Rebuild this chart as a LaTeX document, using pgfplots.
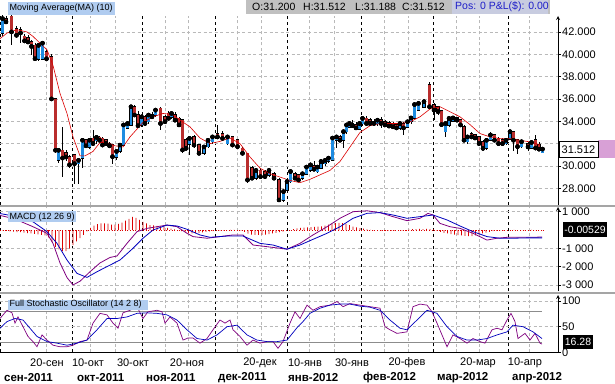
\documentclass[border=0pt]{standalone}
\usepackage{pgfplots}
\pgfplotsset{compat=1.18}
\usepackage{pgfplotstable}
\usepackage{fontspec}
\setmainfont{Liberation Sans}
\definecolor{cblue}{RGB}{30,140,225}
\definecolor{cred}{RGB}{185,45,45}
\definecolor{maRed}{RGB}{220,0,0}
\definecolor{gridgray}{RGB}{185,185,185}
\definecolor{sepgray}{RGB}{165,165,165}
\definecolor{lblblue}{RGB}{176,204,240}
\definecolor{hdrgray}{RGB}{192,192,192}
\definecolor{posbg}{RGB}{200,204,224}
\definecolor{posblue}{RGB}{30,30,200}
\definecolor{pinkbox}{RGB}{216,160,214}
\definecolor{lineblue}{RGB}{0,0,190}
\definecolor{linepurple}{RGB}{128,0,128}
\definecolor{levelgray}{RGB}{140,140,140}

\pgfplotstableread{
x o h l c
6.0 43.2 43.4 42.7 42.9
11.5 43.4 43.5 40.8 42.0
16.5 42.3 42.5 41.5 41.7
20.5 42.2 42.4 41.0 41.9
24.5 41.6 41.8 41.0 41.2
28.0 41.5 41.7 40.9 41.1
31.5 41.1 41.3 39.9 40.7
35.0 40.8 41.0 39.5 39.6
46.5 40.2 40.4 39.5 39.6
51.5 39.8 40.0 35.9 36.0
55.5 36.0 36.1 31.2 31.4
62.5 31.4 33.5 29.0 30.7
66.0 31.2 31.4 30.4 30.8
69.5 30.8 31.0 29.8 30.1
74.5 31.0 31.1 28.4 30.2
86.0 32.3 32.4 31.6 31.8
93.0 32.47 33.2 31.9 32.0
99.5 32.56 32.7 32.1 32.3
102.5 32.47 32.6 31.7 31.87
106.0 32.3 32.4 31.9 32.0
109.5 32.0 32.1 31.6 31.8
112.5 31.87 32.0 30.2 30.83
134.5 35.3 35.5 34.4 34.56
138.0 34.6 34.9 33.4 33.6
145.0 34.4 34.6 33.6 33.8
152.0 34.6 34.8 34.2 34.4
160.5 35.16 35.3 33.2 33.8
165.0 34.4 34.6 33.8 33.96
168.5 34.7 34.9 34.1 34.26
175.0 34.56 34.8 34.0 34.1
179.0 34.26 34.4 33.5 33.67
182.5 34.1 34.2 31.2 31.43
186.0 32.3 32.5 31.4 31.57
194.0 32.6 32.8 31.6 31.87
199.0 31.87 32.0 31.0 31.13
217.5 32.9 33.7 32.5 32.6
222.5 32.9 33.1 32.3 32.47
232.5 32.6 32.7 31.8 31.87
237.5 32.3 32.4 31.6 31.73
242.5 31.57 31.7 31.0 31.13
247.5 31.13 31.2 28.5 28.74
252.0 29.8 30.0 28.7 28.9
260.5 29.6 29.8 28.9 29.04
265.0 29.5 29.6 28.9 29.04
274.0 29.3 29.5 28.7 28.9
279.0 28.74 28.9 26.9 26.95
295.0 29.3 29.5 28.8 28.9
298.5 29.2 29.3 28.6 28.74
314.0 30.0 30.4 29.6 29.7
340.0 32.6 32.8 32.1 32.3
352.5 33.8 34.1 33.4 33.6
356.0 33.7 33.9 33.2 33.4
366.5 34.26 34.5 33.6 33.8
370.0 34.1 34.3 33.6 33.8
374.0 33.96 34.2 33.7 33.8
381.0 34.1 34.4 33.4 33.8
385.0 33.96 34.1 33.5 33.67
389.0 33.87 34.0 33.4 33.57
393.0 33.8 33.9 33.3 33.5
396.5 33.7 33.8 33.2 33.4
403.5 33.8 33.9 32.8 33.4
429.5 37.25 37.5 35.2 35.3
434.0 35.46 35.6 34.1 35.0
438.0 35.3 35.4 34.6 34.86
441.5 34.9 35.0 33.6 33.7
457.0 34.3 34.4 33.9 34.1
460.5 34.1 34.2 33.5 33.67
464.0 33.5 33.7 32.2 32.3
471.5 32.9 33.0 32.5 32.6
475.0 32.8 32.9 32.3 32.5
479.0 32.6 32.7 31.9 32.0
483.0 32.17 32.3 31.4 31.57
494.5 32.77 32.9 32.2 32.3
498.5 32.47 32.6 31.9 32.0
502.5 32.3 32.5 31.9 32.0
513.5 33.07 33.1 31.3 32.3
517.5 32.3 32.4 31.1 31.73
528.0 32.0 32.1 31.3 31.7
535.5 32.3 32.8 31.5 31.6
539.0 31.9 32.1 31.3 31.5
}\redcandles

\pgfplotstableread{
x o h l c
2.5 41.9 43.5 41.6 43.2
38.5 39.6 41.0 39.4 40.8
42.5 39.6 41.1 39.5 41.0
58.5 30.5 31.5 30.3 31.4
78.5 30.2 30.6 28.4 30.5
82.5 30.7 32.5 29.8 32.3
89.5 31.7 32.5 31.5 32.3
96.5 32.26 32.7 32.0 32.56
116.5 30.8 31.4 30.5 31.3
120.0 31.3 31.9 31.2 31.87
123.5 31.87 33.7 31.8 33.67
127.5 33.4 33.9 33.3 33.8
131.0 33.67 35.4 33.6 35.3
141.5 33.67 34.5 33.5 34.4
148.5 33.96 34.7 33.8 34.56
155.5 34.56 35.2 34.4 35.0
171.5 34.4 34.9 34.2 34.7
189.5 31.97 32.6 31.0 32.47
204.0 31.13 31.8 31.0 31.7
208.0 31.73 32.4 31.6 32.3
212.5 32.17 32.7 32.0 32.6
227.5 32.0 32.7 31.9 32.6
256.0 28.9 29.8 28.7 29.6
269.0 29.2 29.7 29.0 29.6
283.5 26.95 27.9 26.8 27.7
287.0 27.85 28.7 27.7 28.6
290.5 28.6 29.6 28.5 29.5
302.5 28.9 29.4 28.7 29.3
306.5 29.3 30.0 29.2 29.9
310.5 29.6 30.2 29.5 30.1
317.5 29.5 30.0 29.4 29.9
321.0 29.8 30.5 29.7 30.4
325.0 30.2 30.6 30.0 30.5
328.5 30.4 30.8 30.3 30.7
332.5 30.5 32.6 30.4 32.5
336.5 32.3 32.7 31.6 32.6
343.5 32.3 33.2 31.6 33.07
346.5 33.07 33.8 32.9 33.67
349.5 33.5 33.9 33.4 33.8
359.5 33.3 34.0 33.2 33.8
362.5 33.8 34.4 33.6 34.26
377.5 33.8 34.2 33.6 34.1
400.0 33.4 33.9 33.2 33.8
407.5 33.5 34.1 33.4 33.96
411.0 33.96 34.5 33.8 34.3
414.5 34.3 35.6 34.2 35.5
418.5 35.0 35.7 34.9 35.6
424.0 35.3 35.9 35.2 35.76
445.5 33.07 33.9 32.6 33.8
449.0 33.67 34.4 33.5 34.26
453.0 34.0 34.5 33.9 34.3
467.5 32.17 32.7 32.0 32.6
486.5 31.57 32.4 31.4 32.3
490.5 32.3 33.0 32.2 32.77
506.0 32.0 32.4 31.9 32.3
510.0 32.4 33.2 32.3 33.07
521.5 31.73 32.3 31.6 32.17
531.5 31.6 32.2 31.5 32.1
542.5 31.2 31.512 31.188 31.512
}\bluecandles

\pgfplotsset{
  panel/.style={
    scale only axis, anchor=south west, width=558pt,
    xmin=0, xmax=558, enlargelimits=false,
    axis y line=right, axis x line*=bottom,
    x axis line style={draw=none},
    y axis line style={black, line width=0.8pt},
    xtick={46.7,90,115,165,188,237,261,309,334,384,408,456,479,529},
    xticklabels={},
    xtick style={draw=none},
    minor xtick={0.6,72,142,215,287,361,433,508},
    minor tick length=0pt,
    xmajorgrids, xminorgrids, ymajorgrids,
    major grid style={gridgray, dash pattern=on 3pt off 2.5pt, line width=0.6pt},
    minor grid style={black, dash pattern=on 3pt off 3pt, line width=0.7pt},
    ytick style={black, line width=0.6pt},
    tick align=outside, major tick length=3pt,
    yticklabel style={font=\fontsize{11}{12}\selectfont, inner sep=1pt},
  },
  wick/.style={only marks, mark=none,
    error bars/y dir=both, error bars/y explicit, error bars/error mark=none,
    error bars/error bar style={black, line width=0.6pt, solid}},
  body/.style={only marks, mark=none,
    error bars/y dir=both, error bars/y explicit, error bars/error mark=none,
    error bars/error bar style={#1, solid}},
}

\begin{document}
\begin{tikzpicture}[x=1pt,y=1pt]
\path[use as bounding box] (0,0) rectangle (615,383);
\fill[white] (0,0) rectangle (615,383);

% ---------------- price panel
\begin{axis}[panel, at={(0pt,178pt)}, height=189pt, ymin=26.5, ymax=43.43,
  ytick={28,30,32,34,36,38,40,42},
  yticklabels={28.000,30.000,{},34.000,36.000,38.000,40.000,42.000}]
\addplot[wick] table[x=x, y=c, y error plus expr=\thisrow{h}-\thisrow{c}, y error minus expr=\thisrow{c}-\thisrow{l}] \redcandles;
\addplot[wick] table[x=x, y=c, y error plus expr=\thisrow{h}-\thisrow{c}, y error minus expr=\thisrow{c}-\thisrow{l}] \bluecandles;
\addplot[body={black, line width=3.7pt}] table[x=x, y=c, y error plus expr=\thisrow{o}-\thisrow{c}+0.07, y error minus expr=0.07] \redcandles;
\addplot[body={black, line width=3.7pt}] table[x=x, y=c, y error plus expr=0.07, y error minus expr=\thisrow{c}-\thisrow{o}+0.07] \bluecandles;
\addplot[body={cred, line width=2.6pt}] table[x=x, y=c, y error plus expr=\thisrow{o}-\thisrow{c}, y error minus expr=0] \redcandles;
\addplot[body={cblue, line width=2.6pt}] table[x=x, y=c, y error plus expr=0, y error minus expr=\thisrow{c}-\thisrow{o}] \bluecandles;
\addplot[maRed, line width=0.6pt] coordinates {
(0,41.4) (7,41.9) (17,42.2) (27,42.0) (33,41.6) (40,41.0) (47,40.4) (53,39.0) (60,36.5) (67,34.7) (73,32.6) (80,30.9) (85,30.9) (93,31.3) (100,32.1) (107,32.1) (115,31.8) (123,31.7) (130,32.6) (136,33.2) (143,33.9) (153,34.4) (163,34.7) (173,34.6) (180,34.1) (190,33.5) (200,32.5) (210,32.0) (220,32.2) (230,32.5) (240,32.0) (250,30.8) (260,29.8) (270,29.3) (280,29.0) (290,28.7) (300,28.5) (310,28.8) (320,29.2) (330,29.6) (340,30.4) (350,31.7) (360,33.0) (370,33.6) (380,33.8) (390,33.8) (400,33.8) (410,33.95) (420,34.4) (430,35.1) (440,35.3) (450,34.85) (460,34.4) (470,33.7) (480,32.9) (490,32.6) (500,32.45) (510,32.45) (520,32.3) (530,32.15) (540,31.9)};
\end{axis}

% ---------------- MACD panel
\begin{axis}[panel, at={(0pt,92pt)}, height=84pt, ymin=-3.333, ymax=1.257,
  ytick={-3,-2,-1,1}, yticklabels={-3 000,-2 000,-1 000,1 000}]
\addplot[ybar, bar width=0.7pt, fill=maRed, draw=none] coordinates {
(3,-0.03) (6.5,-0.05) (10,-0.07) (13.5,-0.09) (17,-0.11) (20.5,-0.12) (24,-0.14) (27.5,-0.17) (31,-0.19) (34.5,-0.21) (38,-0.24) (41.5,-0.26) (45,-0.29) (48.5,-0.4) (52,-0.66) (55.5,-0.92) (59,-1.06) (62.5,-1.15) (66,-1.16) (69.5,-1.02) (73,-0.82) (76.5,-0.62) (80,-0.45) (83.5,-0.27) (87,-0.08) (90.5,0.12) (94,0.24) (97.5,0.32) (101,0.36) (104.5,0.36) (108,0.35) (111.5,0.29) (115,0.3) (118.5,0.34) (122,0.41) (125.5,0.51) (129,0.61) (132.5,0.72) (136,0.66) (139.5,0.56) (143,0.45) (146.5,0.36) (150,0.27) (153.5,0.25) (157,0.22) (160.5,0.2) (164,0.17) (167.5,0.12) (171,0.08) (174.5,0.03) (178,-0.01) (181.5,-0.06) (185,-0.12) (188.5,-0.16) (192,-0.18) (195.5,-0.17) (199,-0.15) (202.5,-0.13) (206,-0.1) (209.5,-0.08) (213,-0.06) (216.5,-0.04) (220,-0.03) (223.5,-0.02) (227,0) (230.5,0.01) (234,0.01) (237.5,0) (241,-0.03) (244.5,-0.1) (248,-0.2) (251.5,-0.25) (255,-0.27) (258.5,-0.27) (262,-0.27) (265.5,-0.25) (269,-0.22) (272.5,-0.18) (276,-0.15) (279.5,-0.12) (283,-0.09) (286.5,-0.05) (290,0) (293.5,0.05) (297,0.09) (300.5,0.11) (304,0.13) (307.5,0.15) (311,0.16) (314.5,0.17) (318,0.18) (321.5,0.2) (325,0.24) (328.5,0.3) (332,0.34) (335.5,0.37) (339,0.39) (342.5,0.38) (346,0.34) (349.5,0.26) (353,0.18) (356.5,0.14) (360,0.1) (363.5,0.07) (367,0.04) (370.5,0.01) (374,-0.02) (377.5,-0.04) (381,-0.05) (384.5,-0.05) (388,-0.05) (391.5,-0.04) (395,-0.05) (398.5,-0.05) (402,-0.04) (405.5,-0.05) (409,0.02) (412.5,0.05) (416,0.05) (419.5,0.06) (423,0.05) (426.5,0.06) (430,0.05) (433.5,0.03) (437,-0.05) (440.5,-0.1) (444,-0.15) (447.5,-0.19) (451,-0.22) (454.5,-0.25) (458,-0.28) (461.5,-0.3) (465,-0.32) (468.5,-0.33) (472,-0.33) (475.5,-0.29) (479,-0.24) (482.5,-0.19) (486,-0.14) (489.5,-0.1) (493,-0.06) (496.5,-0.04) (500,-0.02) (503.5,-0.02) (507,-0.01) (510.5,-0.01) (514,0.01) (517.5,0.0) (521,-0.01) (524.5,-0.01) (528,0) (531.5,0.01) (535,0) (538.5,-0.01) (542,-0.01)};
\addplot[maRed, dotted, line width=0.6pt] coordinates {(0,0) (545,0)};
\addplot[linepurple, line width=0.8pt] coordinates {
(0,0.8) (15,0.6) (33,0.18) (47,-0.18) (53,-0.73) (60,-1.8) (67,-2.6) (73,-3.0) (80,-2.8) (90,-2.28) (100,-1.8) (110,-1.5) (117,-1.42) (127,-0.73) (137,-0.09) (147,0.09) (157,0.18) (167,0.27) (177,0.18) (187,-0.18) (193,-0.36) (207,-0.45) (220,-0.36) (233,-0.27) (243,-0.27) (253,-0.82) (267,-0.91) (280,-1.0) (287,-1.05) (300,-0.73) (313,-0.27) (327,0.18) (340,0.64) (353,1.0) (367,1.05) (380,0.95) (393,0.73) (407,0.51) (420,0.64) (428,0.91) (433,0.82) (440,0.36) (450,0.18) (460,0.09) (473,-0.18) (487,-0.55) (497,-0.45) (507,-0.4) (520,-0.4) (533,-0.4) (542,-0.38)};
\addplot[lineblue, line width=0.8pt] coordinates {
(0,0.9) (20,0.7) (33,0.45) (47,-0.09) (57,-0.73) (67,-1.64) (77,-2.37) (87,-2.59) (97,-2.28) (107,-2.0) (120,-1.64) (133,-1.0) (143,-0.45) (153,0.0) (167,0.27) (177,0.22) (187,0.04) (200,-0.27) (210,-0.4) (227,-0.33) (243,-0.33) (260,-0.73) (273,-0.82) (287,-1.05) (300,-0.82) (313,-0.51) (327,-0.18) (340,0.18) (353,0.64) (367,0.91) (380,0.95) (393,0.82) (407,0.64) (420,0.73) (433,0.82) (447,0.55) (460,0.22) (473,-0.09) (487,-0.36) (500,-0.45) (513,-0.45) (527,-0.43) (542,-0.43)};
\end{axis}

% ---------------- Stochastic panel
\begin{axis}[panel, at={(0pt,30.6pt)}, height=57.4pt, ymin=0, ymax=111.7,
  ytick={0,50,100}, yticklabels={0,50,100},
  x axis line style={draw=black, line width=0.8pt}]
\addplot[levelgray, line width=0.8pt] coordinates {(0,80) (542,80)};
\addplot[levelgray, line width=0.8pt] coordinates {(0,20) (542,20)};
\addplot[linepurple, line width=0.7pt] coordinates {
(0,66) (7,82) (12,77) (15,57) (18,69) (23,50) (28,31) (33,21) (37,11) (42,34) (47,24) (53,14) (60,11) (67,11) (73,14) (80,21) (87,24) (93,57) (100,76) (107,73) (113,57) (118,47) (123,77) (130,82) (137,89) (143,66) (148,79) (157,82) (162,79) (165,57) (170,69) (177,57) (183,24) (188,28) (193,28) (200,18) (207,27) (213,44) (220,63) (225,57) (230,63) (233,44) (240,31) (247,14) (253,24) (260,18) (267,21) (273,21) (278,8) (283,21) (290,57) (295,79) (300,66) (307,92) (313,82) (320,89) (330,92) (337,99) (343,89) (350,95) (360,92) (370,89) (380,86) (385,50) (390,44) (397,37) (407,40) (413,89) (420,94) (427,92) (432,79) (437,57) (442,34) (447,11) (453,34) (460,27) (467,18) (473,27) (480,21) (485,18) (492,44) (497,47) (502,44) (507,63) (511,76) (515,60) (518,27) (525,37) (530,24) (535,37) (540,18) (542,16.28)};
\addplot[lineblue, line width=0.7pt] coordinates {
(0,47) (7,60) (15,66) (23,63) (30,47) (37,31) (47,21) (57,18) (67,14) (77,18) (87,24) (97,44) (107,66) (117,66) (127,69) (137,76) (147,77) (157,76) (167,73) (177,63) (187,44) (197,27) (207,24) (217,34) (227,50) (237,53) (247,34) (257,24) (267,21) (277,21) (287,24) (297,48) (303,60) (310,76) (320,86) (330,92) (340,94) (350,94) (360,90) (370,88) (380,82) (390,63) (400,47) (407,44) (417,63) (427,82) (437,76) (447,50) (457,31) (467,24) (477,24) (487,27) (497,34) (507,40) (513,53) (523,50) (533,40) (542,27)};
\end{axis}

% ---------------- separators
\draw[sepgray, line width=2pt] (0,177.3) -- (615,177.3);
\draw[sepgray, line width=2pt] (0,90.5) -- (615,90.5);

% ---------------- panel titles
\fill[lblblue] (8,368) rectangle (115,381);
\node[anchor=west, inner sep=0pt, font=\fontsize{9}{10}\selectfont] at (9.5,374.5) {Moving Average(MA) (10)};
\fill[lblblue] (8,161) rectangle (76,171.5);
\node[anchor=west, inner sep=0pt, font=\fontsize{9}{10}\selectfont] at (9.5,166.2) {MACD (12 26 9)};
\fill[lblblue] (8,73.5) rectangle (148,83.5);
\node[anchor=west, inner sep=0pt, font=\fontsize{9}{10}\selectfont] at (9.5,78.5) {Full Stochastic Oscillator (14 2 8)};

% ---------------- header bar
\fill[hdrgray] (246,369) rectangle (550,383);
\fill[posbg] (452,369) rectangle (548,383);
\begin{scope}[every node/.style={anchor=west, inner sep=0pt, font=\fontsize{10.5}{11}\selectfont}]
\node at (252,376) {O:31.200};
\node at (303,376) {H:31.512};
\node at (355,376) {L:31.188};
\node at (402,376) {C:31.512};
\node[text=posblue] at (455,376) {Pos: 0 P\&L(\$): 0.00};
\end{scope}

% ---------------- value boxes
\fill[pinkbox] (598,224.5) rectangle (615,242.5);
\draw[fill=white, line width=0.8pt] (559,226) rectangle (598,241.5);
\node[inner sep=0pt, font=\fontsize{11}{12}\selectfont] at (578.5,233.7) {31.512};
\fill[black] (563,146) rectangle (607,160.5);
\node[inner sep=0pt, text=white, font=\fontsize{10.5}{11}\selectfont] at (585,153.2) {-0.00529};
\fill[black] (563,34) rectangle (593,48);
\node[inner sep=0pt, text=white, font=\fontsize{10.5}{11}\selectfont] at (578,41) {16.28};

% ---------------- date labels
\begin{scope}[every node/.style={inner sep=0pt, font=\fontsize{11}{12}\selectfont}]
\node at (47,20) {20-сен};
\node at (88,20) {10-окт};
\node at (133,20) {30-окт};
\node at (187,20) {20-ноя};
\node at (260,20) {20-дек};
\node at (305,20) {10-янв};
\node at (352,20) {30-янв};
\node at (407,20) {20-фев};
\node at (478,20) {20-мар};
\node at (525,20) {10-апр};
\end{scope}
\begin{scope}[every node/.style={anchor=west, inner sep=0pt, font=\fontsize{11.5}{12}\selectfont\bfseries}]
\node at (4,5.5) {сен-2011};
\node at (77,5.5) {окт-2011};
\node at (146,5.5) {ноя-2011};
\node at (218,5.5) {дек-2011};
\node at (288,5.5) {янв-2012};
\node at (363,5.5) {фев-2012};
\node at (437,5.5) {мар-2012};
\node at (512,5.5) {апр-2012};
\end{scope}
\end{tikzpicture}
\end{document}
